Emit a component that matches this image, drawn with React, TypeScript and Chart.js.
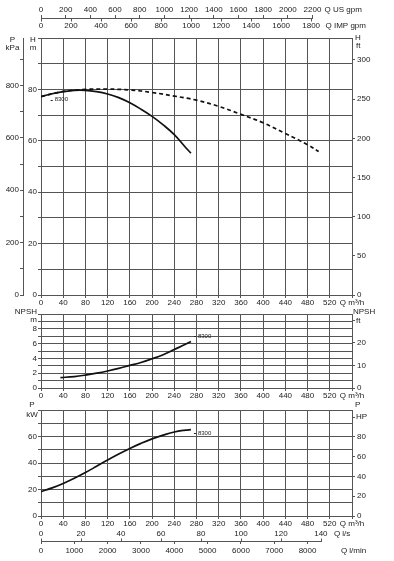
import React, { useEffect, useRef } from 'react';
import { Chart, registerables } from 'chart.js';

Chart.register(...registerables);

// ---------- Data ----------
const curveName = '8300';

// Head curve H [m] vs Q [m³/h] (solid)
const headQ = [0, 20, 40, 60, 80, 100, 120, 140, 160, 180, 200, 220, 240, 260, 270];
const headH = [77.2, 78.3, 79.1, 79.6, 79.6, 79.1, 78.2, 76.8, 74.8, 72.3, 69.5, 66.2, 62.4, 57.5, 55.2];

// Head curve (dashed)
const headDashQ = [0, 40, 80, 120, 160, 200, 240, 280, 320, 360, 400, 440, 480, 500];
const headDashH = [77.2, 79.2, 80.0, 80.1, 79.8, 78.8, 77.4, 75.8, 73.4, 70.3, 67.0, 62.8, 58.5, 55.8];

// NPSH [m] vs Q
const npshQ = [35, 60, 80, 100, 120, 140, 160, 180, 200, 220, 240, 260, 270];
const npshM = [1.4, 1.55, 1.75, 2.0, 2.3, 2.65, 3.05, 3.45, 3.95, 4.5, 5.2, 5.9, 6.3];

// Power [kW] vs Q
const powerQ = [0, 20, 40, 60, 80, 100, 120, 140, 160, 180, 200, 220, 240, 260, 270];
const powerKW = [18.4, 21.2, 24.6, 28.5, 32.8, 37.5, 42.3, 46.8, 51.0, 54.8, 58.2, 61.0, 63.4, 64.8, 65.2];

// Axis ranges / conversions
const Q_MAX = 560;
const H_MAX = 100;
const NPSH_MAX = 10;
const P_MAX = 80;
const KPA_PER_M = 9.81;
const FT_PER_M = 3.2808;
const HP_PER_KW = 1.341;
const USGPM_PER_M3H = 4.5;
const IMPGPM_PER_M3H = 3.7;
const LS_PER_M3H = 1 / 3.6;
const LMIN_PER_M3H = 1000 / 60;

// Ticks
const qTicks = [0, 40, 80, 120, 160, 200, 240, 280, 320, 360, 400, 440, 480, 520];
const usGpmTicks = [0, 200, 400, 600, 800, 1000, 1200, 1400, 1600, 1800, 2000, 2200];
const impGpmTicks = [0, 200, 400, 600, 800, 1000, 1200, 1400, 1600, 1800];
const kPaTicks = [0, 100, 200, 300, 400, 500, 600, 700, 800, 900];
const kPaLabels = [0, 200, 400, 600, 800];
const hTicks = [0, 10, 20, 30, 40, 50, 60, 70, 80, 90, 100];
const hLabels = [0, 20, 40, 60, 80];
const hFtTicks = [0, 50, 100, 150, 200, 250, 300];
const npshTicks = [0, 1, 2, 3, 4, 5, 6, 7, 8, 9, 10];
const npshLabels = [0, 2, 4, 6, 8];
const npshFtTicks = [0, 10, 20, 30];
const npshFtLabels = [0, 10, 20];
const pTicks = [0, 10, 20, 30, 40, 50, 60, 70, 80];
const pLabels = [0, 20, 40, 60];
const pHpTicks = [0, 20, 40, 60, 80, 100];
const pHpLabels = [0, 20, 40, 60, 80];
const lsTicks = [0, 20, 40, 60, 80, 100, 120, 140];
const lminTicks = [0, 1000, 2000, 3000, 4000, 5000, 6000, 7000, 8000];

// ---------- Style ----------
const FONT = '"Liberation Sans", Arial, Helvetica, sans-serif';
const GRID = '#555';
const TXT = '#222';
const tickFont = { family: FONT, size: 8 };

const pts = (xs: number[], ys: number[]) => xs.map((x, i) => ({ x, y: ys[i] }));
const setTicks = (vals: number[]) => (s: any) => {
  s.ticks = vals.map((v) => ({ value: v }));
};
const fixW = (w: number) => (s: any) => {
  s.width = w;
};
const fixH = (h: number) => (s: any) => {
  s.height = h;
};
const lbl = (list: number[]) => (v: any) => (list.includes(v) ? String(v) : '');
const plain = (v: any) => String(v);

function line(ctx: CanvasRenderingContext2D, x1: number, y1: number, x2: number, y2: number) {
  ctx.beginPath();
  ctx.moveTo(x1, y1);
  ctx.lineTo(x2, y2);
  ctx.stroke();
}
function txt(ctx: CanvasRenderingContext2D, s: string, x: number, y: number, align: CanvasTextAlign, size = 8) {
  ctx.font = `${size}px ${FONT}`;
  ctx.fillStyle = TXT;
  ctx.textAlign = align;
  ctx.textBaseline = 'middle';
  ctx.fillText(s, x, y);
}
const px = (v: number) => Math.round(v) + 0.5;

function curveLabel(ctx: CanvasRenderingContext2D, xs: any, ys: any, q: number, v: number) {
  const x = xs.getPixelForValue(q);
  const y = ys.getPixelForValue(v);
  ctx.strokeStyle = '#222';
  ctx.lineWidth = 1;
  line(ctx, x - 2, px(y), x, px(y));
  txt(ctx, curveName, x + 2, y, 'left', 6);
}

function baseOptions(padTop: number, scales: any) {
  return {
    animation: false,
    responsive: false,
    maintainAspectRatio: false,
    devicePixelRatio: 1,
    events: [],
    layout: { padding: { top: padTop, left: 0, right: 0, bottom: 0 }, autoPadding: false },
    plugins: { legend: { display: false }, tooltip: { enabled: false }, title: { display: false } },
    elements: { point: { radius: 0 } },
    scales,
  };
}

function mainX(height: number) {
  return {
    type: 'linear',
    position: 'bottom',
    weight: 0,
    min: 0,
    max: Q_MAX,
    afterBuildTicks: setTicks([...qTicks, Q_MAX]),
    afterFit: fixH(height),
    ticks: {
      font: tickFont,
      color: TXT,
      padding: 0,
      maxRotation: 0,
      autoSkip: false,
      callback: (v: any) => (v === Q_MAX ? 'Q m³/h' : String(v)),
    },
    grid: { color: GRID, tickColor: GRID, lineWidth: 1, tickLength: 3 },
    border: { color: GRID, width: 1 },
  };
}

function yScale(
  position: string,
  weight: number,
  max: number,
  ticks: number[],
  labels: number[],
  width: number,
  onChart: boolean,
  padding: number
) {
  return {
    type: 'linear',
    position,
    weight,
    min: 0,
    max,
    afterBuildTicks: setTicks(ticks),
    afterFit: fixW(width),
    ticks: { font: tickFont, color: TXT, padding, autoSkip: false, callback: lbl(labels) },
    grid: { drawOnChartArea: onChart, color: GRID, tickColor: GRID, lineWidth: 1, tickLength: 3 },
    border: { color: GRID, width: 1 },
  };
}

function curveDs(data: any[], dashed = false) {
  return {
    data,
    xAxisID: 'x',
    yAxisID: 'y',
    showLine: true,
    borderColor: '#111',
    borderWidth: 1.7,
    borderDash: dashed ? [4, 3] : [],
    pointRadius: 0,
    tension: 0.4,
    fill: false,
  };
}

// ---------- Charts ----------
function makeTop(canvas: HTMLCanvasElement) {
  const plugin = {
    id: 'topExtras',
    afterDraw(chart: any) {
      const { ctx, chartArea: ca, scales } = chart;
      const us = scales.xUS;
      const imp = scales.xIMP;
      ctx.save();
      ctx.strokeStyle = GRID;
      ctx.lineWidth = 1;
      const ly = px(us.bottom);
      const endX = us.getPixelForValue(usGpmTicks[usGpmTicks.length - 1]);
      line(ctx, us.left, ly, endX + 0.5, ly);
      impGpmTicks.forEach((v) => {
        const x = px(imp.getPixelForValue(v));
        line(ctx, x, ly, x, ly + 3);
      });
      txt(ctx, 'Q US gpm', endX + 12, us.bottom - 8, 'left');
      txt(ctx, 'Q IMP gpm', endX + 13, imp.bottom - 12, 'left');
      // axis titles
      const kpa = scales.yKPa;
      const hm = scales.y;
      txt(ctx, 'P', (kpa.left + kpa.right) / 2 + 1, ca.top + 2, 'center');
      txt(ctx, 'kPa', (kpa.left + kpa.right) / 2 + 1, ca.top + 10, 'center');
      txt(ctx, 'H', (hm.left + hm.right) / 2 + 1, ca.top + 2, 'center');
      txt(ctx, 'm', (hm.left + hm.right) / 2 + 1, ca.top + 10, 'center');
      txt(ctx, 'H', ca.right + 3, ca.top, 'left');
      txt(ctx, 'ft', ca.right + 4, ca.top + 8, 'left');
      curveLabel(ctx, scales.x, scales.y, 21, 76);
      ctx.restore();
    },
  };
  return new Chart(canvas, {
    type: 'scatter',
    data: {
      datasets: [curveDs(pts(headQ, headH)), curveDs(pts(headDashQ, headDashH), true)] as any,
    },
    options: baseOptions(0, {
      x: mainX(14),
      y: yScale('left', 1, H_MAX, hTicks, hLabels, 18, true, 1),
      xUS: {
        type: 'linear',
        position: 'top',
        weight: 2,
        min: 0,
        max: Q_MAX * USGPM_PER_M3H,
        afterBuildTicks: setTicks(usGpmTicks),
        afterFit: fixH(18),
        ticks: { font: tickFont, color: TXT, padding: 0, maxRotation: 0, autoSkip: false, callback: plain },
        grid: { display: true, drawOnChartArea: false, color: GRID, tickColor: GRID, tickLength: 3 },
        border: { display: false },
      },
      xIMP: {
        type: 'linear',
        position: 'top',
        weight: 1,
        min: 0,
        max: Q_MAX * IMPGPM_PER_M3H,
        afterBuildTicks: setTicks(impGpmTicks),
        afterFit: fixH(20),
        ticks: { font: tickFont, color: TXT, padding: 7, maxRotation: 0, autoSkip: false, callback: plain },
        grid: { display: false, drawTicks: false },
        border: { display: false },
      },
      yKPa: yScale('left', 2, H_MAX * KPA_PER_M, kPaTicks, kPaLabels, 23, false, 1),
      yFt: yScale('right', 1, H_MAX * FT_PER_M, hFtTicks, hFtTicks, 42, false, 2),
    }) as any,
    plugins: [plugin],
  });
}

function makeNpsh(canvas: HTMLCanvasElement) {
  const plugin = {
    id: 'npshExtras',
    afterDraw(chart: any) {
      const { ctx, chartArea: ca, scales } = chart;
      ctx.save();
      txt(ctx, 'NPSH', ca.left - 4, ca.top - 2.5, 'right');
      txt(ctx, 'm', ca.left - 4, ca.top + 5.5, 'right');
      txt(ctx, 'NPSH', ca.right + 1, ca.top - 2.5, 'left');
      txt(ctx, 'ft', ca.right + 4, scales.yFt.getPixelForValue(30), 'left');
      curveLabel(ctx, scales.x, scales.y, 279, 7.0);
      ctx.restore();
    },
  };
  return new Chart(canvas, {
    type: 'scatter',
    data: { datasets: [curveDs(pts(npshQ, npshM))] as any },
    options: baseOptions(9, {
      x: mainX(14),
      y: yScale('left', 1, NPSH_MAX, npshTicks, npshLabels, 41, true, 1),
      yFt: yScale('right', 1, NPSH_MAX * FT_PER_M, npshFtTicks, npshFtLabels, 42, false, 2),
    }) as any,
    plugins: [plugin],
  });
}

function makePower(canvas: HTMLCanvasElement) {
  const plugin = {
    id: 'powerExtras',
    afterDraw(chart: any) {
      const { ctx, chartArea: ca, scales } = chart;
      const ls = scales.xLs;
      const lm = scales.xLmin;
      ctx.save();
      ctx.strokeStyle = GRID;
      ctx.lineWidth = 1;
      const ly = px(lm.top);
      const lastLs = ls.getPixelForValue(lsTicks[lsTicks.length - 1]);
      line(ctx, lm.left, ly, lastLs + 1, ly);
      lsTicks.forEach((v) => {
        const x = px(ls.getPixelForValue(v));
        line(ctx, x, ly - 3, x, ly);
      });
      txt(ctx, 'Q l/s', lastLs + 13, ls.top + 6, 'left');
      txt(ctx, 'Q l/min', lastLs + 20, lm.top + 10, 'left');
      txt(ctx, 'P', ca.left - 9, ca.top - 5, 'center');
      txt(ctx, 'kW', ca.left - 9, ca.top + 5, 'center');
      txt(ctx, 'P', ca.right + 3, ca.top - 5, 'left');
      txt(ctx, 'HP', ca.right + 4, scales.yHp.getPixelForValue(100), 'left');
      curveLabel(ctx, scales.x, scales.y, 279, 62.7);
      ctx.restore();
    },
  };
  return new Chart(canvas, {
    type: 'scatter',
    data: { datasets: [curveDs(pts(powerQ, powerKW))] as any },
    options: baseOptions(8, {
      x: mainX(12),
      y: yScale('left', 1, P_MAX, pTicks, pLabels, 41, true, 1),
      xLs: {
        type: 'linear',
        position: 'bottom',
        weight: 1,
        min: 0,
        max: Q_MAX * LS_PER_M3H,
        afterBuildTicks: setTicks(lsTicks),
        afterFit: fixH(13),
        ticks: { font: tickFont, color: TXT, padding: 1, maxRotation: 0, autoSkip: false, callback: plain },
        grid: { display: false, drawTicks: false },
        border: { display: false },
      },
      xLmin: {
        type: 'linear',
        position: 'bottom',
        weight: 2,
        min: 0,
        max: Q_MAX * LMIN_PER_M3H,
        afterBuildTicks: setTicks(lminTicks),
        afterFit: fixH(20),
        ticks: { font: tickFont, color: TXT, padding: 2, maxRotation: 0, autoSkip: false, callback: plain },
        grid: { display: true, drawOnChartArea: false, color: GRID, tickColor: GRID, tickLength: 3 },
        border: { display: false },
      },
      yHp: yScale('right', 1, P_MAX * HP_PER_KW, pHpTicks, pHpLabels, 42, false, 2),
    }) as any,
    plugins: [plugin],
  });
}

export default function App() {
  const r1 = useRef<HTMLCanvasElement>(null);
  const r2 = useRef<HTMLCanvasElement>(null);
  const r3 = useRef<HTMLCanvasElement>(null);

  useEffect(() => {
    const charts = [makeTop(r1.current!), makeNpsh(r2.current!), makePower(r3.current!)];
    return () => charts.forEach((c) => c.destroy());
  }, []);

  const cs = (top: number, h: number): React.CSSProperties => ({
    position: 'absolute',
    left: 0,
    top,
    width: 394,
    height: h,
  });

  return (
    <div
      style={{
        position: 'fixed',
        left: 0,
        top: 0,
        width: 394,
        height: 561,
        background: '#fff',
        overflow: 'hidden',
      }}
    >
      <canvas ref={r1} width={394} height={309} style={cs(0, 309)} />
      <canvas ref={r2} width={394} height={97} style={cs(305, 97)} />
      <canvas ref={r3} width={394} height={159} style={cs(402, 159)} />
    </div>
  );
}
